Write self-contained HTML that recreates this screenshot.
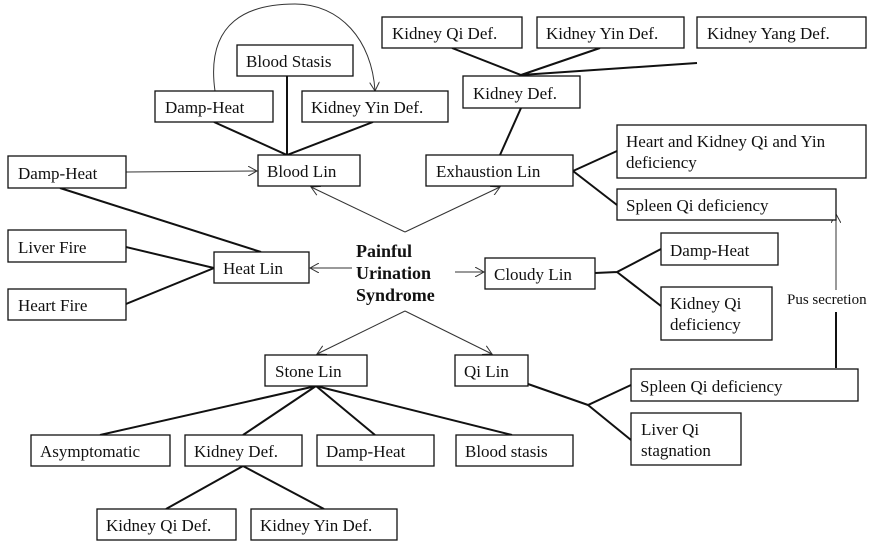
<!DOCTYPE html>
<html><head><style>
body{margin:0;background:#fff}
svg{display:block}
text{font-family:"Liberation Serif",serif;font-size:17px;fill:#111}
rect{fill:#fff;stroke:#111;stroke-width:1.3}
.t{stroke:#111;stroke-width:2;fill:none}
.a{stroke:#333;stroke-width:1;fill:none}
</style></head><body>
<svg width="881" height="548" viewBox="0 0 881 548">
<defs><marker id="ar" markerWidth="10" markerHeight="10" refX="9" refY="5" orient="auto" markerUnits="userSpaceOnUse"><path d="M0,0 L9,5 L0,10" fill="none" stroke="#333" stroke-width="1"/></marker></defs>
<g class="t">
<path d="M452,48 L521,75 L600,48 M521,75 L697,63 M521,108 L500,155"/>
<path d="M287,76 L287,155 M214,122 L287,155 L373,122"/>
<path d="M60,188 L261,252 M126,247 L214,268 L126,304"/>
<path d="M573,171 L617,151 M573,171 L617,205"/>
<path d="M595,273 L617,272 L661,249 M617,272 L661,306"/>
<path d="M528,384 L588,405 L631,385 M588,405 L631,440"/>
<path d="M316,386 L100,435 M316,386 L243,435 M316,386 L375,435 M316,386 L512,435"/>
<path d="M243,466 L166,509 M243,466 L324,509"/>
<path d="M836,368 L836,312"/>
</g>
<g class="a">
<path d="M215,91 C205,20 250,4 295,4 C340,4 372,40 375,91" marker-end="url(#ar)"/>
<path d="M126,172 L257,171" marker-end="url(#ar)"/>
<path d="M405,232 L311,187" marker-end="url(#ar)"/>
<path d="M405,232 L500,187" marker-end="url(#ar)"/>
<path d="M352,268 L310,268" marker-end="url(#ar)"/>
<path d="M455,272 L484,272" marker-end="url(#ar)"/>
<path d="M405,311 L317,354" marker-end="url(#ar)"/>
<path d="M405,311 L492,354" marker-end="url(#ar)"/>
<path d="M836,290 L836,214" marker-end="url(#ar)"/>
</g>
<rect x="382" y="17" width="140" height="31"/><text x="392" y="39">Kidney Qi Def.</text>
<rect x="537" y="17" width="147" height="31"/><text x="546" y="39">Kidney Yin Def.</text>
<rect x="697" y="17" width="169" height="31"/><text x="707" y="39">Kidney Yang Def.</text>
<rect x="463" y="76" width="117" height="32"/><text x="473" y="99">Kidney Def.</text>
<rect x="237" y="45" width="116" height="31"/><text x="246" y="67">Blood Stasis</text>
<rect x="155" y="91" width="118" height="31"/><text x="165" y="113">Damp-Heat</text>
<rect x="302" y="91" width="146" height="31"/><text x="311" y="113">Kidney Yin Def.</text>
<rect x="258" y="155" width="102" height="31"/><text x="267" y="177">Blood Lin</text>
<rect x="426" y="155" width="147" height="31"/><text x="436" y="177">Exhaustion Lin</text>
<rect x="617" y="125" width="249" height="53"/><text x="626" y="147">Heart and Kidney Qi and Yin</text><text x="626" y="168">deficiency</text>
<rect x="617" y="189" width="219" height="31"/><text x="626" y="211">Spleen Qi deficiency</text>
<rect x="8" y="156" width="118" height="32"/><text x="18" y="179">Damp-Heat</text>
<rect x="8" y="230" width="118" height="32"/><text x="18" y="253">Liver Fire</text>
<rect x="8" y="289" width="118" height="31"/><text x="18" y="311">Heart Fire</text>
<rect x="214" y="252" width="95" height="31"/><text x="223" y="274">Heat Lin</text>
<text x="356" y="257" style="font-weight:bold;font-size:18px">Painful</text>
<text x="356" y="279" style="font-weight:bold;font-size:18px">Urination</text>
<text x="356" y="301" style="font-weight:bold;font-size:18px">Syndrome</text>
<rect x="485" y="258" width="110" height="31"/><text x="494" y="280">Cloudy Lin</text>
<rect x="661" y="233" width="117" height="32"/><text x="670" y="256">Damp-Heat</text>
<rect x="661" y="287" width="111" height="53"/><text x="670" y="309">Kidney Qi</text><text x="670" y="330">deficiency</text>
<text x="787" y="304" style="font-size:15px">Pus secretion</text>
<rect x="265" y="355" width="102" height="31"/><text x="275" y="377">Stone Lin</text>
<rect x="455" y="355" width="73" height="31"/><text x="464" y="377">Qi Lin</text>
<rect x="631" y="369" width="227" height="32"/><text x="640" y="392">Spleen Qi deficiency</text>
<rect x="631" y="413" width="110" height="52"/><text x="641" y="435">Liver Qi</text><text x="641" y="456">stagnation</text>
<rect x="31" y="435" width="139" height="31"/><text x="40" y="457">Asymptomatic</text>
<rect x="185" y="435" width="117" height="31"/><text x="194" y="457">Kidney Def.</text>
<rect x="317" y="435" width="117" height="31"/><text x="326" y="457">Damp-Heat</text>
<rect x="456" y="435" width="117" height="31"/><text x="465" y="457">Blood stasis</text>
<rect x="97" y="509" width="139" height="31"/><text x="106" y="531">Kidney Qi Def.</text>
<rect x="251" y="509" width="146" height="31"/><text x="260" y="531">Kidney Yin Def.</text>
</svg>
</body></html>
